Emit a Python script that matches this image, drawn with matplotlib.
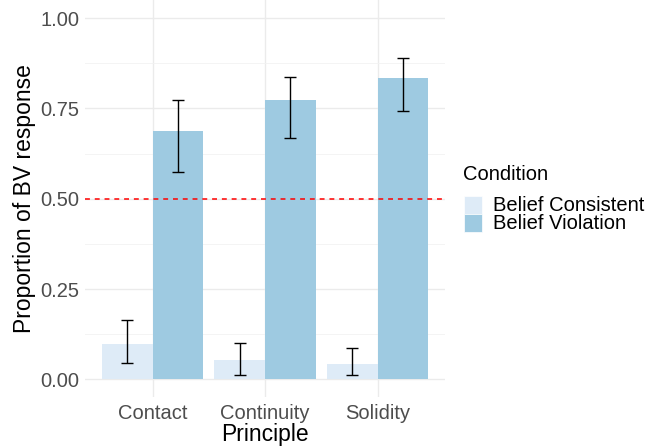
import matplotlib
matplotlib.use("Agg")
import matplotlib.pyplot as plt
import numpy as np
from matplotlib.patches import Rectangle

principles = ["Contact", "Continuity", "Solidity"]
conditions = ["Belief Consistent", "Belief Violation"]
bc_mean = [0.098, 0.054, 0.043]
bc_low = [0.045, 0.011, 0.011]
bc_high = [0.165, 0.100, 0.088]
bv_mean = [0.688, 0.774, 0.835]
bv_low = [0.575, 0.669, 0.742]
bv_high = [0.773, 0.836, 0.889]
colors = ["#deebf7", "#9ecae1"]
y_ticks = [0.0, 0.25, 0.5, 0.75, 1.0]
y_tick_labels = ["0.00", "0.25", "0.50", "0.75", "1.00"]

plt.rcParams['font.family'] = ['Liberation Sans', 'DejaVu Sans']

W, H = 659, 446
fig = plt.figure(figsize=(W / 100, H / 100), dpi=100)
ax = fig.add_axes([85 / W, (H - 397.4) / H, 360 / W, 397.4 / H])

x = np.arange(len(principles))
bw = 0.45
means = [bc_mean, bv_mean]
lows = [bc_low, bv_low]
highs = [bc_high, bv_high]
offsets = [-bw / 2, bw / 2]
for i in range(2):
    ax.bar(x + offsets[i], means[i], width=bw, color=colors[i], zorder=2, linewidth=0)
for i in range(2):
    m = np.array(means[i])
    lo = np.array(lows[i])
    hi = np.array(highs[i])
    ax.errorbar(x + offsets[i], m, yerr=[m - lo, hi - m], fmt='none', ecolor='black',
                elinewidth=1.0, capsize=4.3, capthick=1.0, zorder=3)

ax.axhline(0.5, color='#ff0000', linewidth=1.1, dashes=(3.2, 3.2), zorder=4)

ax.set_xlim(-0.6, 2.6)
ax.set_ylim(-0.05, 1.05)
ax.set_xticks(x)
ax.set_xticklabels(principles)
ax.set_yticks(y_ticks)
ax.set_yticklabels(y_tick_labels)
ax.set_yticks([0.125, 0.375, 0.625, 0.875], minor=True)
ax.grid(True, which='major', color='#ebebeb', linewidth=1.0, zorder=0)
ax.grid(True, which='minor', axis='y', color='#f2f2f2', linewidth=0.6, zorder=0)
ax.set_axisbelow(True)
for s in ax.spines.values():
    s.set_visible(False)
ax.tick_params(axis='both', which='both', length=0, labelsize=14.5, labelcolor='#4d4d4d')
ax.tick_params(axis='y', pad=4)
ax.tick_params(axis='x', pad=5)
ax.set_xlabel("Principle", fontsize=16.5, labelpad=0)
ax.set_ylabel("Proportion of BV response", fontsize=16.5, labelpad=3)

# legend
fig.text(463 / W, 1 - 175 / H, "Condition", fontsize=14.5, va='center', ha='left')
key_tops = [196, 214]
for i, lab in enumerate(conditions):
    top = key_tops[i]
    fig.patches.append(Rectangle((464 / W, 1 - (top + 17.5) / H), 17.5 / W, 17.5 / H,
                                 transform=fig.transFigure, facecolor=colors[i],
                                 edgecolor='white', linewidth=0.5))
    fig.text(493 / W, 1 - (top + 9.5) / H, lab, fontsize=14.5, va='center', ha='left')

fig.savefig("out.png", dpi=100)
